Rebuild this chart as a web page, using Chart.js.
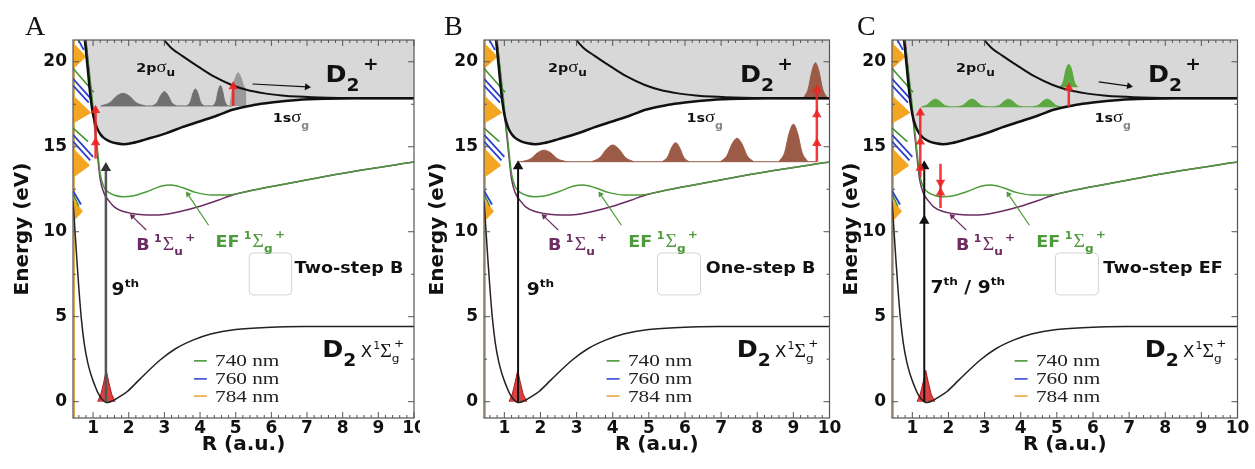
<!DOCTYPE html>
<html>
<head>
<meta charset="utf-8">
<script src="https://cdn.jsdelivr.net/npm/chart.js@4.4.1/dist/chart.umd.min.js"></script>
<style>
  body { margin: 0; background: #fff; width: 1255px; height: 469px; overflow: hidden; position: relative; }
  canvas { position: absolute; top: 0; }
</style>
</head>
<body>
<canvas id="cA" width="420" height="469" style="left:0"></canvas>
<canvas id="cB" width="430" height="469" style="left:411px"></canvas>
<canvas id="cC" width="436" height="469" style="left:819px"></canvas>
<script>
// ---------- potential curves (R in a.u., E in eV) ----------
const R_X = [0.44, 0.5, 0.55, 0.6, 0.67, 0.75, 0.85, 0.94, 1.05, 1.13, 1.25, 1.4, 1.55, 1.75, 1.96, 2.3, 2.88, 3.3, 3.8, 4.3, 5, 6, 7, 8.5, 10];
const E_X = [11.8, 9.8, 8.2, 6.7, 4.9, 3.45, 2.3, 1.6, 0.95, 0.55, 0.15, -0.05, 0.05, 0.3, 0.6, 1.3, 2.45, 3.1, 3.62, 3.98, 4.25, 4.38, 4.42, 4.43, 4.43];

const R_B = [0.8, 0.9, 1.0, 1.1, 1.2, 1.3, 1.45, 1.6, 1.83, 2.1, 2.4, 2.66, 3.0, 3.5, 4.0, 4.5, 4.85, 5.5, 6.5, 7.5, 8.5, 10];
const E_B = [21.3, 19.1, 17.0, 15.0, 13.1, 12.3, 11.8, 11.45, 11.2, 11.07, 11.0, 10.98, 11.02, 11.22, 11.5, 11.85, 12.12, 12.45, 12.85, 13.25, 13.62, 14.1];

const R_EF = [0.78, 0.9, 1.0, 1.1, 1.2, 1.3, 1.45, 1.6, 1.83, 2.1, 2.5, 2.9, 3.18, 3.5, 3.9, 4.33, 4.85, 5.5, 6.5, 7.5, 8.5, 10];
const E_EF = [21.3, 19.3, 17.3, 15.3, 13.4, 12.65, 12.3, 12.15, 12.06, 12.1, 12.35, 12.68, 12.75, 12.6, 12.3, 12.16, 12.18, 12.45, 12.85, 13.25, 13.62, 14.1];

const R_1SG = [0.77, 0.85, 0.92, 1.0, 1.1, 1.2, 1.3, 1.45, 1.65, 1.84, 2.1, 2.5, 3.04, 3.5, 3.96, 4.5, 4.88, 5.5, 6.0, 6.73, 7.5, 8.5, 10];
const E_1SG = [21.3, 19.6, 18.1, 16.9, 16.15, 15.75, 15.52, 15.33, 15.2, 15.15, 15.22, 15.45, 15.79, 16.15, 16.47, 16.85, 17.16, 17.45, 17.6, 17.75, 17.82, 17.85, 17.85];

const R_2PU = [2.98, 3.2, 3.5, 3.96, 4.4, 4.89, 5.3, 5.81, 6.3, 6.73, 7.6, 8.5, 10];
const E_2PU = [21.3, 20.8, 20.35, 19.7, 19.12, 18.63, 18.35, 18.14, 18.02, 17.95, 17.88, 17.86, 17.85];

// ---------- laser-dressed copies at the left edge ----------
const ORANGE_R = [[0.44, 0.80, 0.44], [0.44, 0.93, 0.44], [0.44, 0.90, 0.44], [0.44, 0.70, 0.44]];
const ORANGE_E = [[21.1, 20.3, 19.6], [18.0, 17.0, 16.4], [14.9, 13.9, 13.2], [11.9, 11.2, 10.6]];
const BLUE_R = [[0.44, 0.95], [0.44, 0.88], [0.44, 1.0], [0.44, 0.92], [0.44, 0.66], [0.58, 0.74]];
const BLUE_E = [[19.0, 17.8], [18.6, 17.6], [15.7, 14.4], [15.3, 14.2], [12.4, 11.6], [21.3, 20.7]];
const GREEN_R = [[0.44, 1.02], [0.44, 0.86], [0.44, 0.6]];
const GREEN_E = [[19.6, 18.2], [16.1, 15.3], [12.2, 11.5]];
const TAN_R = [0.47, 0.47];
const TAN_E = [-0.96, 21.3];

// ---------- wave packets ----------
const GS_R = [1.13, 1.22, 1.3, 1.37, 1.44, 1.52, 1.62];
const GS_E = [0, 0.45, 1.15, 1.85, 1.15, 0.45, 0];

const PACK_A_R = [
  [1.22, 1.47, 1.65, 1.84, 2.03, 2.21, 2.46],
  [2.67, 2.80, 2.90, 3.00, 3.10, 3.20, 3.33],
  [3.63, 3.73, 3.80, 3.87, 3.94, 4.01, 4.11],
  [4.37, 4.45, 4.51, 4.57, 4.63, 4.69, 4.77],
  [4.84, 4.92, 5.00, 5.07, 5.14, 5.22, 5.30]
];
const PACK_A_E = [
  [17.4, 17.59, 17.96, 18.14, 17.96, 17.59, 17.4],
  [17.4, 17.61, 18.03, 18.24, 18.03, 17.61, 17.4],
  [17.4, 17.65, 18.15, 18.4, 18.15, 17.65, 17.4],
  [17.4, 17.7, 18.3, 18.6, 18.3, 17.7, 17.4],
  [17.4, 18.55, 19.1, 19.35, 19.1, 18.6, 18.3]
];
const PACK_A_BASE = [17.4, 17.4, 17.4, 17.4, 17.4];

const PACK_B_R = [
  [1.48, 1.73, 1.91, 2.10, 2.29, 2.47, 2.72],
  [3.42, 3.65, 3.83, 4.00, 4.17, 4.35, 4.58],
  [5.37, 5.52, 5.63, 5.74, 5.85, 5.96, 6.11],
  [6.98, 7.16, 7.30, 7.44, 7.58, 7.72, 7.90],
  [8.60, 8.76, 8.88, 9.00, 9.12, 9.24, 9.40],
  [9.28, 9.41, 9.51, 9.61, 9.71, 9.81, 9.94]
];
const PACK_B_E = [
  [14.12, 14.29, 14.63, 14.8, 14.63, 14.29, 14.12],
  [14.12, 14.37, 14.86, 15.1, 14.86, 14.37, 14.12],
  [14.12, 14.4, 14.96, 15.24, 14.96, 14.4, 14.12],
  [14.12, 14.47, 15.16, 15.5, 15.16, 14.47, 14.12],
  [14.12, 14.67, 15.78, 16.33, 15.78, 14.67, 14.12],
  [17.88, 18.4, 19.43, 19.94, 19.43, 18.4, 17.88]
];
const PACK_B_BASE = [14.12, 14.12, 14.12, 14.12, 14.12, 17.88];

const PACK_C_R = [
  [1.26, 1.41, 1.53, 1.64, 1.75, 1.87, 2.02],
  [2.27, 2.42, 2.54, 2.65, 2.76, 2.88, 3.03],
  [3.28, 3.43, 3.55, 3.66, 3.77, 3.89, 4.04],
  [4.35, 4.50, 4.62, 4.73, 4.84, 4.96, 5.11],
  [5.08, 5.18, 5.25, 5.33, 5.41, 5.48, 5.58]
];
const PACK_C_E = [
  [17.35, 17.46, 17.69, 17.8, 17.69, 17.46, 17.35],
  [17.35, 17.46, 17.69, 17.8, 17.69, 17.46, 17.35],
  [17.35, 17.46, 17.69, 17.8, 17.69, 17.46, 17.35],
  [17.35, 17.46, 17.69, 17.8, 17.69, 17.46, 17.35],
  [18.5, 18.84, 19.51, 19.85, 19.51, 18.84, 18.5]
];
const PACK_C_BASE = [17.35, 17.35, 17.35, 17.35, 18.5];

// packet baselines [R from, R to, E]
const BASE_A = [1.22, 4.9, 17.4];
const BASE_B = [1.4, 9.66, 14.12];
const BASE_C = [1.26, 5.11, 17.35];

// ---------- arrows: shafts [R0, R1], [E0, E1]; heads R, E, rotation ----------
const SHAFT_A_R = [[1.36, 1.36], [1.07, 1.07], [4.93, 4.93], [5.47, 7.0]];
const SHAFT_A_E = [[0, 13.7], [14.3, 17.3], [17.4, 18.5], [18.69, 18.52]];
const HEAD_A_R = [1.36, 1.07, 1.07, 4.93, 7.0];
const HEAD_A_E = [13.75, 15.25, 17.15, 18.55, 18.52];
const HEAD_A_ROT = [0, 0, 0, 0, 96];

const SHAFT_B_R = [[1.38, 1.38], [9.65, 9.65]];
const SHAFT_B_E = [[0, 13.8], [14.12, 18.3]];
const HEAD_B_R = [1.38, 9.65, 9.65, 9.65];
const HEAD_B_E = [13.85, 15.2, 16.9, 18.35];
const HEAD_B_ROT = [0, 0, 0, 0];

const SHAFT_C_R = [[1.33, 1.33], [1.22, 1.22], [1.78, 1.78], [5.33, 5.33], [6.16, 7.0]];
const SHAFT_C_E = [[0, 13.8], [13.2, 17.2], [14.0, 11.4], [17.35, 18.5], [18.82, 18.57]];
const HEAD_C_R = [1.33, 1.33, 1.22, 1.22, 1.22, 1.78, 1.78, 5.33, 7.0];
const HEAD_C_E = [10.65, 13.85, 13.75, 15.3, 17.0, 12.9, 12.3, 18.45, 18.57];
const HEAD_C_ROT = [0, 0, 0, 0, 0, 180, 0, 0, 100];

// label pointers (B and EF)
const PTR_R = [[2.49, 2.1], [4.24, 3.66]];
const PTR_E = [[10.1, 10.9], [10.38, 12.2]];
const PTR_ROT = [-45, -34];

// legend
const LEGEND_TXT = ['740 nm', '760 nm', '784 nm'];
const LEGEND_LINE_R = [3.83, 4.19];
const LEGEND_LINE_E = [2.4, 1.34, 0.33];
const LEGEND_TXT_R = 4.42;
const LEGEND_TXT_E = [2.1, 1.04, 0];

// ---------- styles ----------
const COL = {
  fill: '#d8d8d8', black: '#111', purple: '#6b2c62', green: '#4d9a3a',
  orange: '#f4a622', blue: '#2a3fd0', dgreen: '#3f8f2c', tan: '#d9a54a',
  red: 'rgba(238,36,36,0.9)', grayPk: '#707070', grayPk2: '#9a9a9a',
  brown: '#9b5b47', greenPk: '#5aa83f', frame: '#555'
};
const LEGEND_COL = ['#3f8f2c', '#2a3fd0', '#e8a030'];
const SANS = '"DejaVu Sans", sans-serif';
const SERIF = '"Liberation Serif", serif';
const sans = (s, w = 'bold') => `${w} ${s}px ${SANS}`;
const serif = s => `${s}px ${SERIF}`;
const SX = 1.1;

function pts(rs, es) { return rs.map((r, i) => ({ x: r, y: es[i] })); }

const commonLabels = [
  { r: 2.21, e: 19.41, parts: [['2p', sans(13)], ['σ', serif(17)], ['u', sans(11), 4]] },
  { r: 7.52, e: 18.82, parts: [['D', sans(23)], ['2', sans(17), 9], ['+', sans(17), -12, null, 3]] },
  { r: 6.04, e: 16.47, parts: [['1s', sans(13)], ['σ', serif(17)], ['g', sans(10), 7, '#888']] },
  { r: 2.21, e: 8.92, color: COL.purple, parts: [['B', sans(16)], ['1', sans(10), -8, null, 4], ['Σ', serif(18), 0, null, 1], ['u', sans(11), 5], ['+', sans(11), -9, null, 2]] },
  { r: 4.43, e: 9.12, color: COL.green, parts: [['EF', sans(16)], ['1', sans(10), -8, null, 4], ['Σ', serif(18), 0, null, 1], ['g', sans(11), 5], ['+', sans(11), -9, null, 2]] },
  { r: 7.43, e: 2.65, parts: [['D', sans(23)], ['2', sans(17), 9], ['X', sans(15, 'normal'), 0, null, 4], ['1', sans(10, 'normal'), -8, null, 1], ['Σ', serif(18)], ['g', sans(11, 'normal'), 5], ['+', sans(11, 'normal'), -10, null, -5]] }
];

const panels = [
  {
    id: 'cA', letter: 'A', letterDx: -48, titlePad: 10.5,
    packR: PACK_A_R, packE: PACK_A_E, packBase: PACK_A_BASE, baseLine: BASE_A,
    packCol: [COL.grayPk, COL.grayPk, COL.grayPk, COL.grayPk, COL.grayPk2],
    shaftR: SHAFT_A_R, shaftE: SHAFT_A_E, shaftCol: ['#555', COL.red, COL.red, COL.black], shaftW: [2.5, 2.5, 2.5, 1.2],
    headR: HEAD_A_R, headE: HEAD_A_E, headRot: HEAD_A_ROT, headCol: ['#333', COL.red, COL.red, COL.red, COL.black], headSize: [6, 5.5, 5.5, 5.5, 4],
    boxR: [5.38, 6.57], boxText: 'Two-step B', boxTextR: 9.7,
    labels: [{ r: 1.52, e: 6.28, parts: [['9', sans(17)], ['th', sans(11), -8]] }]
  },
  {
    id: 'cB', letter: 'B', letterDx: -40, titlePad: 14.5,
    packR: PACK_B_R, packE: PACK_B_E, packBase: PACK_B_BASE, baseLine: BASE_B,
    packCol: PACK_B_R.map(() => COL.brown),
    shaftR: SHAFT_B_R, shaftE: SHAFT_B_E, shaftCol: [COL.black, COL.red], shaftW: [2, 2.5],
    headR: HEAD_B_R, headE: HEAD_B_E, headRot: HEAD_B_ROT, headCol: [COL.black, COL.red, COL.red, COL.red], headSize: [6, 5.5, 5.5, 5.5],
    boxR: [5.24, 6.43], boxText: 'One-step B', boxTextR: 9.61,
    labels: [{ r: 1.62, e: 6.28, parts: [['9', sans(17)], ['th', sans(11), -8]] }]
  },
  {
    id: 'cC', letter: 'C', letterDx: -35, titlePad: 20.5,
    packR: PACK_C_R, packE: PACK_C_E, packBase: PACK_C_BASE, baseLine: BASE_C,
    packCol: PACK_C_R.map(() => COL.greenPk),
    shaftR: SHAFT_C_R, shaftE: SHAFT_C_E, shaftCol: [COL.black, COL.red, COL.red, COL.red, COL.black], shaftW: [2, 2.5, 2.5, 2.5, 1.2],
    headR: HEAD_C_R, headE: HEAD_C_E, headRot: HEAD_C_ROT, headCol: [COL.black, COL.black, COL.red, COL.red, COL.red, COL.red, COL.red, COL.red, COL.black], headSize: [6, 6, 5.5, 5.5, 5.5, 5.5, 5.5, 5.5, 4],
    boxR: [4.96, 6.15], boxText: 'Two-step EF', boxTextR: 9.59,
    labels: [{ r: 1.5, e: 6.4, parts: [['7', sans(17)], ['th', sans(11), -8], [' / ', sans(17)], ['9', sans(17)], ['th', sans(11), -8]] }]
  }
];

function drawRich(ctx, x, y, parts, color, align, sx) {
  ctx.save();
  ctx.translate(x, y);
  ctx.scale(sx, 1);
  ctx.textBaseline = 'alphabetic';
  ctx.textAlign = 'left';
  let w = 0;
  parts.forEach(p => { ctx.font = p[1]; w += ctx.measureText(p[0]).width + (p[4] || 0); });
  let cx = align === 'right' ? -w : 0;
  parts.forEach(p => {
    ctx.font = p[1];
    cx += p[4] || 0;
    ctx.fillStyle = p[3] || color;
    ctx.fillText(p[0], cx, p[2] || 0);
    cx += ctx.measureText(p[0]).width;
  });
  ctx.restore();
}

function makeChart(spec) {
  const datasets = [];
  let order = 1000;
  const add = d => datasets.push(Object.assign({ pointRadius: 0, borderWidth: 0, fill: false, tension: 0, order: order-- }, d));

  // ionisation continuum (grey area above 1s sigma_g)
  add({ data: pts(R_1SG, E_1SG), fill: 'end', backgroundColor: COL.fill, cubicInterpolationMode: 'monotone' });

  // dressed states
  add({ data: pts(TAN_R, TAN_E), borderColor: COL.tan, borderWidth: 1.5 });
  ORANGE_R.forEach((rs, i) => {
    const es = ORANGE_E[i];
    add({ data: pts([rs[0], rs[1]], [es[0], es[1]]), fill: '+1', backgroundColor: COL.orange, borderColor: COL.orange, borderWidth: 1 });
    add({ data: pts([rs[2], rs[1]], [es[2], es[1]]), borderColor: COL.orange, borderWidth: 1 });
  });
  GREEN_R.forEach((rs, i) => add({ data: pts(rs, GREEN_E[i]), borderColor: COL.dgreen, borderWidth: 1.5 }));
  BLUE_R.forEach((rs, i) => add({ data: pts(rs, BLUE_E[i]), borderColor: COL.blue, borderWidth: 1.8 }));

  // packet baseline and packets
  const bl = spec.baseLine;
  add({ data: pts([bl[0], bl[1]], [bl[2], bl[2]]), borderColor: spec.packCol[0], borderWidth: 1 });
  spec.packR.forEach((rs, i) => add({
    data: pts(rs, spec.packE[i]), fill: { value: spec.packBase[i] },
    backgroundColor: spec.packCol[i], borderColor: spec.packCol[i], borderWidth: 1,
    cubicInterpolationMode: 'monotone'
  }));
  add({ data: pts(GS_R, GS_E), fill: { value: 0 }, backgroundColor: 'rgba(215,30,30,0.85)', borderColor: '#b01818', borderWidth: 1 });

  // potential curves
  add({ data: pts(R_X, E_X), borderColor: '#222', borderWidth: 1.5, cubicInterpolationMode: 'monotone' });
  add({ data: pts(R_B, E_B), borderColor: COL.purple, borderWidth: 1.5, cubicInterpolationMode: 'monotone' });
  add({ data: pts(R_EF, E_EF), borderColor: COL.green, borderWidth: 1.5, cubicInterpolationMode: 'monotone' });
  add({ data: pts(R_1SG, E_1SG), borderColor: COL.black, borderWidth: 2.5, cubicInterpolationMode: 'monotone' });
  add({ data: pts(R_2PU, E_2PU), borderColor: COL.black, borderWidth: 2, cubicInterpolationMode: 'monotone' });

  // label pointers
  PTR_R.forEach((rs, i) => {
    const c = i === 0 ? COL.purple : COL.green;
    add({ data: pts(rs, PTR_E[i]), borderColor: c, borderWidth: 1.2 });
    add({ data: [{ x: rs[1], y: PTR_E[i][1] }], showLine: false, pointStyle: 'triangle', pointRadius: 3.5, pointRotation: PTR_ROT[i], pointBackgroundColor: c, pointBorderWidth: 0 });
  });

  // arrows
  spec.shaftR.forEach((rs, i) => add({ data: pts(rs, spec.shaftE[i]), borderColor: spec.shaftCol[i], borderWidth: spec.shaftW[i] }));
  add({
    data: pts(spec.headR, spec.headE), showLine: false, pointStyle: 'triangle',
    pointRadius: c => spec.headSize[c.dataIndex], pointRotation: c => spec.headRot[c.dataIndex],
    pointBackgroundColor: c => spec.headCol[c.dataIndex], pointBorderWidth: 0
  });

  const deco = {
    id: 'deco',
    afterDatasetsDraw(chart) {
      const { ctx, chartArea: a, scales: { x, y } } = chart;
      const px = v => x.getPixelForValue(v), py = v => y.getPixelForValue(v);
      ctx.save();
      // frame with inward ticks
      ctx.strokeStyle = COL.frame;
      ctx.lineWidth = 1.2;
      ctx.strokeRect(a.left, a.top, a.right - a.left, a.bottom - a.top);
      ctx.lineWidth = 1;
      ctx.beginPath();
      for (let k = 0; k <= 50; k++) {
        const v = k / 5;
        if (v < x.min || v > x.max) continue;
        const L = k % 5 === 0 ? 6 : 3, p = px(v);
        ctx.moveTo(p, a.bottom); ctx.lineTo(p, a.bottom - L);
        ctx.moveTo(p, a.top); ctx.lineTo(p, a.top + L);
      }
      for (let k = 0; k <= 8; k++) {
        const v = k * 2.5, L = k % 2 === 0 ? 6 : 3, p = py(v);
        ctx.moveTo(a.left, p); ctx.lineTo(a.left + L, p);
        ctx.moveTo(a.right, p); ctx.lineTo(a.right - L, p);
      }
      ctx.stroke();

      // small legend box and scheme name
      const bx0 = px(spec.boxR[0]), bx1 = px(spec.boxR[1]), by0 = py(8.75), by1 = py(6.28);
      ctx.beginPath();
      ctx.roundRect(bx0, by0, bx1 - bx0, by1 - by0, 4);
      ctx.fillStyle = '#fff'; ctx.fill();
      ctx.strokeStyle = '#d4d4d4'; ctx.lineWidth = 1; ctx.stroke();
      drawRich(ctx, px(spec.boxTextR), py(7.55), [[spec.boxText, sans(16)]], '#111', 'right', SX);

      // wavelength legend
      LEGEND_TXT.forEach((t, i) => {
        ctx.strokeStyle = LEGEND_COL[i]; ctx.lineWidth = 1.5;
        ctx.beginPath();
        ctx.moveTo(px(LEGEND_LINE_R[0]), py(LEGEND_LINE_E[i]));
        ctx.lineTo(px(LEGEND_LINE_R[1]), py(LEGEND_LINE_E[i]));
        ctx.stroke();
        drawRich(ctx, px(LEGEND_TXT_R), py(LEGEND_TXT_E[i]), [[t, serif(17)]], '#222', 'left', 1.25);
      });

      // state labels
      commonLabels.concat(spec.labels).forEach(l =>
        drawRich(ctx, px(l.r), py(l.e), l.parts, l.color || '#111', 'left', SX));

      // panel letter
      drawRich(ctx, a.left + spec.letterDx, 35, [[spec.letter, serif(28)]], '#111', 'left', 1);
      ctx.restore();
    }
  };

  const tickFont = { family: 'DejaVu Sans', weight: 'bold', size: 17 };
  const titleFont = { family: 'DejaVu Sans', weight: 'bold', size: 20 };
  const canvas = document.getElementById(spec.id);
  return new Chart(canvas, {
    type: 'line',
    data: { datasets },
    plugins: [deco],
    options: {
      responsive: false,
      animation: false,
      events: [],
      layout: { padding: { top: 40, left: 0, bottom: 0, right: canvas.width - 418.5 } },
      plugins: { legend: { display: false }, tooltip: { enabled: false } },
      scales: {
        x: {
          type: 'linear', min: 0.437, max: 10,
          afterFit: s => { s.height = 51; s.paddingLeft = 0; s.paddingRight = 0; },
          grid: { display: false, drawTicks: false }, border: { display: false },
          ticks: { stepSize: 1, includeBounds: false, padding: 0, color: '#111', font: tickFont, maxRotation: 0, autoSkip: false },
          title: { display: true, text: 'R (a.u.)', color: '#111', font: titleFont, padding: { top: 0, bottom: 12 } }
        },
        y: {
          type: 'linear', min: -0.96, max: 21.28,
          afterFit: s => { s.width = 73; s.paddingTop = 0; s.paddingBottom = 0; },
          grid: { display: false, drawTicks: false }, border: { display: false },
          ticks: { stepSize: 5, includeBounds: false, padding: 6, color: '#111', font: tickFont },
          title: { display: true, text: 'Energy (eV)', color: '#111', font: titleFont, padding: { top: spec.titlePad, bottom: 0 } }
        }
      }
    }
  });
}

panels.forEach(makeChart);
</script>
</body>
</html>
